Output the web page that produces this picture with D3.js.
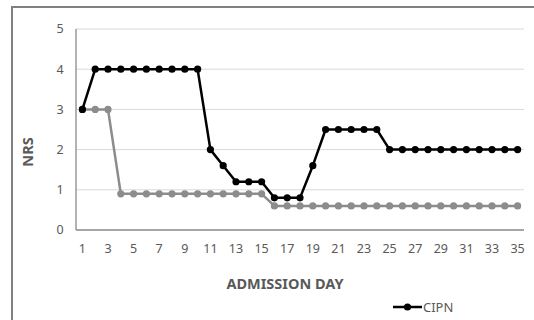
<!DOCTYPE html>
<html><head><meta charset="utf-8">
<script src="https://cdn.jsdelivr.net/npm/d3@7"></script>
<style>body{margin:0;background:#fff}svg{display:block;font-family:"Noto Sans","Noto Sans CJK KR",sans-serif}</style>
</head><body>
<svg id="c" width="534" height="320"></svg>
<script>
const days = d3.range(1, 36);
const cipn = [3,4,4,4,4,4,4,4,4,4,2,1.6,1.2,1.2,1.2,0.8,0.8,0.8,1.6,2.5,2.5,2.5,2.5,2.5,2,2,2,2,2,2,2,2,2,2,2];
const other = [3,3,3,0.9,0.9,0.9,0.9,0.9,0.9,0.9,0.9,0.9,0.9,0.9,0.9,0.6,0.6,0.6,0.6,0.6,0.6,0.6,0.6,0.6,0.6,0.6,0.6,0.6,0.6,0.6,0.6,0.6,0.6,0.6,0.6];
const yTicks = [0,1,2,3,4,5];
const xTickLabels = days.filter(d => d % 2 === 1);

const svg = d3.select("#c");
// frame
svg.append("rect").attr("x",12).attr("y",7).attr("width",540).attr("height",330)
  .attr("fill","none").attr("stroke","#808080").attr("stroke-width",2);

const L=76,R=524,T=29,B=230;
const x = d3.scaleBand().domain(days).range([L,R]);
const y = d3.scaleLinear().domain([0,5]).range([B,T]);
const cx = d => x(d)+x.bandwidth()/2;

// grid
svg.append("g").selectAll("line").data(yTicks.filter(t=>t>0)).join("line")
  .attr("x1",L).attr("x2",R).attr("y1",d=>y(d)).attr("y2",d=>y(d))
  .attr("stroke","#d9d9d9").attr("stroke-width",1);
// axes lines
svg.append("line").attr("x1",L).attr("x2",R).attr("y1",B).attr("y2",B).attr("stroke","#898989").attr("stroke-width",1.3);
svg.append("line").attr("x1",L).attr("x2",L).attr("y1",T).attr("y2",B).attr("stroke","#898989").attr("stroke-width",1.3);

// y tick labels
svg.append("g").selectAll("text").data(yTicks).join("text")
  .attr("x",60).attr("y",d=>y(d)).attr("dy","0.35em").attr("text-anchor","middle")
  .attr("font-size",12.5).attr("fill","#595959").text(d=>d);
// x tick labels
svg.append("g").selectAll("text").data(xTickLabels).join("text")
  .attr("x",d=>cx(d)).attr("y",249).attr("dy","0.35em").attr("text-anchor","middle")
  .attr("font-size",12.5).attr("fill","#595959").text(d=>d);

// titles
svg.append("text").attr("transform","translate(28,152) rotate(-90)").attr("text-anchor","middle")
  .attr("dy","0.35em").attr("font-size",14.5).attr("font-weight","bold").attr("fill","#595959").text("NRS");
svg.append("text").attr("x",285).attr("y",284).attr("dy","0.35em").attr("text-anchor","middle")
  .attr("font-size",14.5).attr("font-weight","bold").attr("fill","#595959").text("ADMISSION DAY");

function series(vals,color){
  const line = d3.line().x((v,i)=>cx(days[i])).y(v=>y(v));
  svg.append("path").attr("d",line(vals)).attr("fill","none").attr("stroke",color).attr("stroke-width",2.5).attr("stroke-linejoin","round");
  svg.append("g").selectAll("circle").data(vals).join("circle")
    .attr("cx",(v,i)=>cx(days[i])).attr("cy",v=>y(v)).attr("r",3.6).attr("fill",color);
}
series(other,"#8c8c8c");
series(cipn,"#000000");

// legend
svg.append("line").attr("x1",393).attr("x2",422).attr("y1",307).attr("y2",307).attr("stroke","#000").attr("stroke-width",2.5);
svg.append("circle").attr("cx",407.5).attr("cy",307).attr("r",3.6).attr("fill","#000");
svg.append("text").attr("x",423).attr("y",307).attr("dy","0.35em").attr("font-size",13).attr("fill","#595959").text("CIPN");
</script>
</body></html>
